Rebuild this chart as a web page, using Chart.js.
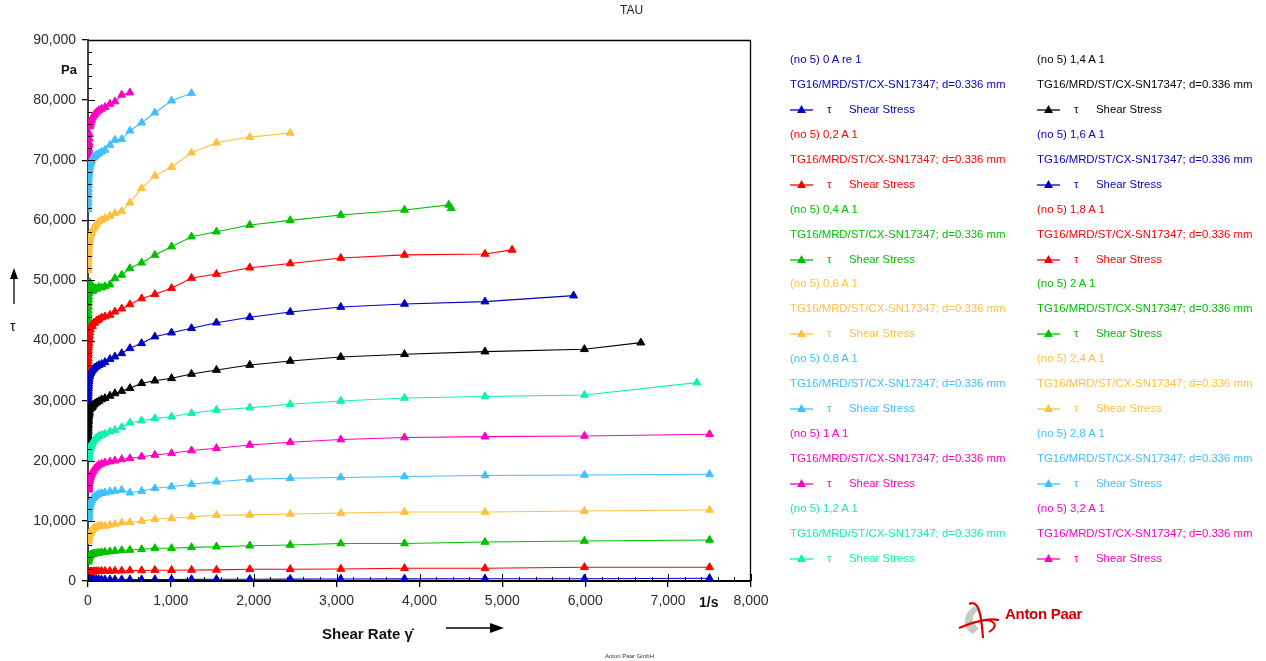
<!DOCTYPE html>
<html><head><meta charset="utf-8">
<script src="https://cdn.jsdelivr.net/npm/chart.js@4"></script>
<style>
body{margin:0;background:#fff;font-family:"Liberation Sans",Arial,sans-serif;}
#wrap{position:relative;width:1266px;height:661px;overflow:hidden;}
#c{position:absolute;left:0;top:0;}
.t{position:absolute;white-space:nowrap;line-height:1;}
.lg{position:absolute;white-space:nowrap;font-size:11.4px;line-height:1;}
</style></head><body>
<div id="wrap">
<canvas id="c" width="1266" height="661"></canvas>
<div class="t" style="left:620px;top:4px;font-size:12px;color:#222;">TAU</div>
<div class="t" style="left:61px;top:63px;font-size:13px;font-weight:bold;color:#111;">Pa</div>
<svg style="position:absolute;left:8px;top:268px" width="12" height="36"><line x1="6" y1="8" x2="6" y2="36" stroke="#000" stroke-width="1.3"/><polygon points="2,11 6,0 10,11" fill="#000"/></svg>
<div class="t" style="left:10px;top:319px;font-size:14px;color:#111;">τ</div>
<div class="t" style="left:699px;top:595px;font-size:14px;font-weight:bold;color:#111;">1/s</div>
<div class="t" style="left:322px;top:626px;font-size:15px;font-weight:bold;color:#111;">Shear Rate γ̇</div>
<svg style="position:absolute;left:446px;top:622px" width="62" height="12"><line x1="0" y1="6" x2="46" y2="6" stroke="#000" stroke-width="1.3"/><polygon points="44,1 58,6 44,11" fill="#000"/></svg>
<div class="t" style="left:605px;top:653px;font-size:6px;color:#333;">Anton Paar GmbH</div>
<svg style="position:absolute;left:955px;top:598px" width="50" height="42">
  <path d="M20 8 C 8 14, 6 30, 18 36 L 24 30 C 16 26, 16 16, 24 12 Z" fill="#c8c8c8"/>
  <path d="M4 30 C 18 24, 34 20, 44 22" stroke="#d00" stroke-width="2.2" fill="none"/>
  <path d="M14 6 C 22 2, 26 10, 28 40" stroke="#d00" stroke-width="2.2" fill="none"/>
  <path d="M28 22 C 40 22, 44 28, 34 34" stroke="#d00" stroke-width="2" fill="none"/>
</svg>
<div class="t" style="left:1005px;top:606px;font-size:15px;font-weight:bold;color:#d40000;letter-spacing:-0.3px;">Anton Paar</div>
<div id="legend"></div>
</div>
<script>
// ---- data ----
const shearRate = [1.0, 1.2, 1.5, 1.9, 2.4, 2.9, 3.7, 4.6, 5.8, 7.2, 9.0, 11.3, 14.1, 17.6, 22, 27.5, 34.4, 43, 54, 67, 84, 105, 131, 164, 205, 265, 325, 407, 506, 647, 807, 1008, 1249, 1550, 1952, 2440, 3050, 3819, 4790, 5990];

const seriesNames = ["(no 5) 0 A re 1", "(no 5) 0,2 A 1", "(no 5) 0,4 A 1", "(no 5) 0,6 A 1", "(no 5) 0,8 A 1", "(no 5) 1 A 1", "(no 5) 1,2 A 1",
                     "(no 5) 1,4 A 1", "(no 5) 1,6 A 1", "(no 5) 1,8 A 1", "(no 5) 2 A 1", "(no 5) 2,4 A 1", "(no 5) 2,8 A 1", "(no 5) 3,2 A 1"];
const seriesColors = ["#0000C0", "#FF0000", "#00C000", "#FFC040", "#40C0FF", "#FF00C0", "#10F0B0",
                      "#000000", "#0000C0", "#FF0000", "#00C000", "#FFC040", "#40C0FF", "#FF00C0"];
const measSystem = "TG16/MRD/ST/CX-SN17347; d=0.336 mm";
const variableSymbol = "τ";
const variableName = "Shear Stress";

const tau_0A  = [0, 20, 40, 60, 80, 100, 110, 120, 130, 140, 150, 160, 170, 180, 180, 190, 190, 200, 200, 200, 210, 210, 220, 220, 220, 230, 230, 240, 240, 250, 260, 260, 270, 280, 300, 320, 340, 360, 380, 380];
const tau_02A = [1000, 1050, 1100, 1150, 1200, 1250, 1300, 1300, 1350, 1350, 1400, 1400, 1450, 1450, 1500, 1500, 1500, 1550, 1550, 1550, 1600, 1600, 1600, 1650, 1650, 1650, 1700, 1700, 1750, 1750, 1800, 1800, 1830, 1850, 1950, 1950, 2000, 2110, 2110, 2280];
const tau_04A = [3200, 3300, 3400, 3500, 3550, 3600, 3700, 3750, 3800, 3900, 3950, 4000, 4100, 4150, 4200, 4250, 4300, 4400, 4450, 4500, 4550, 4600, 4660, 4750, 4830, 4900, 4990, 5100, 5160, 5270, 5440, 5440, 5600, 5710, 5870, 5990, 6240, 6240, 6490, 6656];
const tau_06A = [6600, 6700, 6800, 6900, 7000, 7100, 7200, 7300, 7400, 7500, 7600, 7700, 7800, 7900, 8000, 8100, 8200, 8400, 8600, 8750, 8900, 9050, 9150, 9200, 9150, 9320, 9480, 9700, 9760, 9980, 10260, 10430, 10700, 10950, 11000, 11150, 11310, 11480, 11480, 11650];
const tau_08A = [11800, 11500, 11200, 10900, 10700, 10500, 10500, 10600, 10800, 11000, 11300, 11600, 11900, 12200, 12500, 12800, 13100, 13400, 13700, 13900, 14100, 14300, 14500, 14600, 14700, 14860, 14970, 15140, 14690, 14970, 15420, 15690, 16090, 16520, 16920, 17090, 17220, 17390, 17560, 17640];
const tau_1A  = [17600, 17200, 16800, 16400, 16000, 15700, 15400, 15200, 15200, 15400, 15700, 16000, 16300, 16600, 16900, 17200, 17500, 17800, 18100, 18400, 18700, 19000, 19300, 19500, 19700, 19850, 20010, 20240, 20410, 20680, 20960, 21240, 21700, 22080, 22630, 23070, 23540, 23870, 24010, 24130];
const tau_12A = [22100, 21800, 21500, 21200, 20900, 20700, 20500, 20400, 20500, 20700, 20900, 21100, 21300, 21600, 21800, 22100, 22400, 22700, 23000, 23300, 23600, 23800, 24100, 24300, 24500, 24850, 25120, 25570, 26340, 26670, 27060, 27330, 27900, 28450, 28830, 29400, 29950, 30440, 30700, 30950];
const tau_14A = [23500, 23900, 24300, 24700, 25000, 25400, 25800, 26100, 26500, 26800, 27200, 27500, 27800, 28100, 28500, 28900, 29200, 28800, 29000, 29300, 29500, 29700, 29900, 30200, 30400, 30800, 31200, 31600, 32060, 32890, 33320, 33720, 34440, 35100, 35930, 36600, 37260, 37720, 38160, 38550];
const tau_16A = [28600, 29000, 29500, 29900, 30400, 30800, 31200, 31600, 32000, 32400, 32800, 33200, 33600, 34000, 34300, 34500, 34700, 34900, 35100, 35300, 35500, 35700, 35900, 36100, 36400, 36900, 37320, 37870, 38710, 39540, 40650, 41310, 42040, 42970, 43870, 44750, 45580, 46090, 46480];
const tau_18A = [35100, 35600, 36100, 36600, 37000, 37500, 37900, 38400, 38800, 39200, 39600, 40000, 40400, 40800, 41300, 41800, 42300, 42600, 42400, 42900, 43000, 43300, 43500, 43800, 44000, 44250, 44800, 45300, 46000, 47000, 47700, 48700, 50400, 51070, 52120, 52820, 53730, 54250, 54410];
const tau_2A  = [40600, 41500, 42300, 43000, 43700, 44400, 45000, 45600, 46200, 46800, 47300, 47900, 48500, 49100, 49700, 49200, 48700, 48500, 48200, 48400, 48700, 48600, 48900, 48800, 49000, 49300, 50360, 50910, 52020, 52950, 54230, 55620, 57280, 58110, 59220, 60000, 60890, 61730];
const tau_24A = [51700, 52200, 52700, 53100, 53600, 54000, 54400, 54800, 55200, 55500, 55800, 56100, 56400, 56700, 57000, 57300, 57700, 58000, 58400, 58700, 59000, 59400, 59800, 60060, 60340, 60720, 61170, 61500, 62930, 65330, 67400, 68870, 71250, 72900, 73850, 74530];
const tau_28A = [61800, 62400, 63000, 63500, 64100, 64700, 65200, 65800, 66300, 66800, 67300, 67700, 68100, 68500, 68900, 69300, 69700, 70000, 70300, 70500, 70700, 70900, 71100, 71400, 71700, 72530, 73370, 73480, 74900, 76240, 77900, 79900, 81130];
const tau_32A = [69200, 69600, 70100, 70500, 71000, 70600, 71400, 72000, 71700, 72500, 73000, 72700, 73600, 74300, 75600, 75900, 76300, 76700, 77100, 77400, 77700, 78000, 78300, 78550, 78820, 79370, 79760, 80870, 81250];

// last measured points that fall off the shared shear-rate grid
const tailRates = [[7500], [7500], [7500], [7500], [7500], [7500], [7346], [6671], [5859], [5117], [4353, 4382], [], [], []];
const tailTaus  = [[450], [2280], [6820], [11810], [17750], [24410], [33000], [39650], [47480], [55080], [62570, 62010], [], [], []];

const tauSeries = [tau_0A, tau_02A, tau_04A, tau_06A, tau_08A, tau_1A, tau_12A, tau_14A, tau_16A, tau_18A, tau_2A, tau_24A, tau_28A, tau_32A];

const xTickMax = 8000, xStep = 1000, yTickMax = 90000, yStep = 10000;

// ---- build datasets ----
const datasets = tauSeries.map((arr, i) => {
  const pts = arr.map((v, k) => ({x: shearRate[k], y: v}));
  tailRates[i].forEach((r, k) => pts.push({x: r, y: tailTaus[i][k]}));
  return {
    label: seriesNames[i],
    data: pts,
    borderColor: seriesColors[i],
    backgroundColor: seriesColors[i],
    pointBackgroundColor: seriesColors[i],
    pointBorderColor: seriesColors[i],
    borderWidth: 1.1,
    pointStyle: 'triangle',
    pointRadius: 4.6,
    pointBorderWidth: 1,
    tension: 0,
    fill: false
  };
});

// ---- legend (HTML) ----
const lg = document.getElementById('legend');
seriesNames.forEach((n, i) => {
  const col = i < 7 ? 0 : 1, row = i % 7;
  const x = col ? 1037 : 790, y0 = 60 + row * 74.8;
  const c = seriesColors[i];
  lg.insertAdjacentHTML('beforeend',
    `<div class="lg" style="left:${x}px;top:${y0-6}px;color:${c}">${n}</div>` +
    `<div class="lg" style="left:${x}px;top:${y0+19}px;color:${c}">${measSystem}</div>` +
    `<svg style="position:absolute;left:${x}px;top:${y0+43}px" width="24" height="12"><line x1="0" y1="7" x2="23" y2="7" stroke="${c}" stroke-width="1.3"/><polygon points="7,10 11.5,2 16,10" fill="${c}"/></svg>` +
    `<div class="lg" style="left:${x+37}px;top:${y0+44}px;color:${c}">${variableSymbol}</div>` +
    `<div class="lg" style="left:${x+59}px;top:${y0+44}px;color:${c}">${variableName}</div>`);
});

// ---- frame + inner/minor ticks plugin ----
const frameTicks = {
  id: 'frameTicks',
  afterDraw(chart) {
    const {ctx, chartArea: a, scales: {x, y}} = chart;
    ctx.save();
    ctx.strokeStyle = '#000';
    ctx.lineWidth = 1.3;
    ctx.beginPath();
    ctx.moveTo(a.left, a.top + 0.5); ctx.lineTo(a.right, a.top + 0.5);
    ctx.moveTo(a.right - 0.5, a.top); ctx.lineTo(a.right - 0.5, a.bottom);
    ctx.stroke();
    ctx.lineWidth = 1;
    ctx.beginPath();
    for (let v = 0; v <= yTickMax; v += yStep / 5) {
      const py = Math.round(y.getPixelForValue(v)) + 0.5;
      const len = (v % yStep === 0) ? 7 : 4;
      ctx.moveTo(a.left, py); ctx.lineTo(a.left + len, py);
    }
    for (let v = 0; v <= xTickMax; v += xStep / 5) {
      const px = Math.round(x.getPixelForValue(v)) + 0.5;
      const len = (v % xStep === 0) ? 7 : 4;
      ctx.moveTo(px, a.bottom); ctx.lineTo(px, a.bottom - len);
    }
    ctx.stroke();
    ctx.restore();
  }
};

const fmt = v => Number(v).toLocaleString('en-US');
new Chart(document.getElementById('c'), {
  type: 'line',
  data: {datasets},
  options: {
    responsive: false,
    animation: false,
    devicePixelRatio: 1,
    layout: {padding: {left: 0, right: 515, top: 40, bottom: 0}},
    plugins: {legend: {display: false}, tooltip: {enabled: false}, title: {display: false}},
    scales: {
      x: {
        type: 'linear', min: 0, max: xTickMax,
        ticks: {stepSize: xStep, callback: fmt, color: '#2b2b2b', font: {family: 'Liberation Sans', size: 14}, padding: 6, maxRotation: 0},
        grid: {display: true, drawOnChartArea: false, drawTicks: true, tickLength: 6, color: '#000', lineWidth: 1.3},
        border: {display: true, color: '#000', width: 2},
        afterFit: s => { s.height = 80; }
      },
      y: {
        type: 'linear', min: 0, max: yTickMax,
        ticks: {stepSize: yStep, callback: fmt, color: '#2b2b2b', font: {family: 'Liberation Sans', size: 14}, padding: 6},
        grid: {display: true, drawOnChartArea: false, drawTicks: true, tickLength: 6, color: '#000', lineWidth: 1.3},
        border: {display: true, color: '#444', width: 2},
        afterFit: s => { s.width = 88; }
      }
    }
  },
  plugins: [frameTicks]
});
</script>
</body></html>
